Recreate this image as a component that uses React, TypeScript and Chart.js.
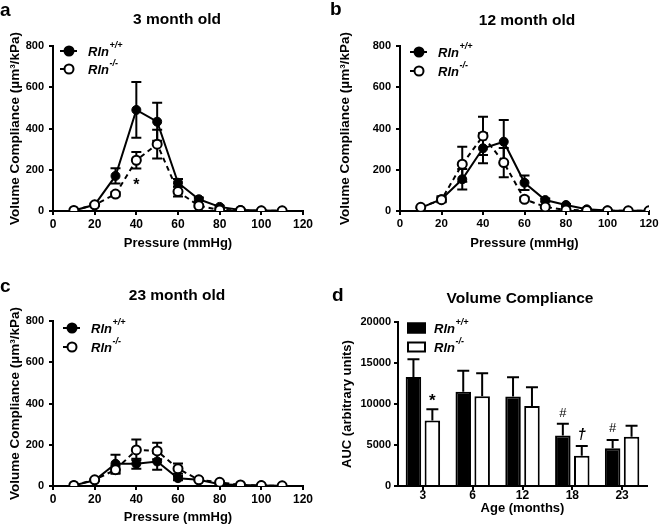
import React, { useEffect, useRef } from 'react';
import { Chart, registerables } from 'chart.js';
Chart.register(...registerables);

const FONT = '"Liberation Sans", Arial, Helvetica, sans-serif';

// ---------- DATA ----------
const pressureA = [10, 20, 30, 40, 50, 60, 70, 80, 90, 100, 110];
const wtA = [2, 30, 170, 490, 433, 137, 57, 20, 5, 2, 1];
const wtAErr = [0, 5, 37, 135, 92, 18, 8, 5, 2, 1, 0];
const koA = [3, 30, 82, 246, 324, 94, 25, 5, 3, 1, 1];
const koAErr = [0, 5, 10, 40, 70, 24, 5, 3, 1, 0, 0];

const pressureB = [10, 20, 30, 40, 50, 60, 70, 80, 90, 100, 110, 120];
const wtB = [15, 57, 154, 304, 336, 137, 53, 29, 8, 3, 1, 1];
const wtBErr = [0, 15, 50, 73, 105, 35, 8, 5, 2, 1, 0, 0];
const koB = [18, 55, 227, 364, 235, 57, 20, 5, 3, 1, 1, 1];
const koBErr = [3, 10, 85, 93, 71, 10, 5, 3, 1, 0, 0, 0];

const pressureC = [10, 20, 30, 40, 50, 60, 70, 80, 90, 100, 110];
const wtC = [3, 28, 108, 108, 119, 38, 30, 8, 5, 3, 1];
const wtCErr = [0, 3, 44, 24, 40, 10, 3, 2, 1, 1, 0];
const koC = [3, 30, 79, 175, 170, 84, 30, 18, 5, 2, 1];
const koCErr = [0, 4, 19, 50, 40, 25, 5, 3, 1, 1, 0];

const ageLabels = ['3', '6', '12', '18', '23'];
const wtAUC = [13300, 11500, 10900, 6150, 4600];
const wtAUCErr = [2150, 2550, 2350, 1450, 1000];
const koAUC = [8000, 10950, 9750, 3700, 6000];
const koAUCErr = [1350, 2800, 2300, 1180, 1350];

const pressureTicks = [0, 20, 40, 60, 80, 100, 120];
const complianceTicks = [0, 200, 400, 600, 800];
const aucTicks = [0, 5000, 10000, 15000, 20000];

const seriesNames = ['Rln', 'Rln'];
const seriesSups = ['+/+', '-/-'];

// ---------- PLUGINS ----------
function errorBarPlugin(errs: number[][], oneSided: boolean, capHalf: number) {
  return {
    id: 'errbars',
    beforeDatasetsDraw(chart: any) {
      const ctx = chart.ctx;
      const y = chart.scales.y;
      ctx.save();
      ctx.strokeStyle = '#000';
      ctx.lineWidth = 2;
      chart.data.datasets.forEach((ds: any, i: number) => {
        const meta = chart.getDatasetMeta(i);
        meta.data.forEach((el: any, j: number) => {
          const v = typeof ds.data[j] === 'number' ? ds.data[j] : ds.data[j].y;
          const e = errs[i][j];
          if (!e) return;
          const px = el.x;
          const top = y.getPixelForValue(v + e);
          const bot = oneSided ? y.getPixelForValue(v) : y.getPixelForValue(Math.max(0, v - e));
          ctx.beginPath();
          ctx.moveTo(px, top);
          ctx.lineTo(px, bot);
          ctx.moveTo(px - capHalf, top);
          ctx.lineTo(px + capHalf, top);
          if (!oneSided && v - e > 0) {
            ctx.moveTo(px - capHalf, bot);
            ctx.lineTo(px + capHalf, bot);
          }
          ctx.stroke();
        });
      });
      ctx.restore();
    },
  };
}

function legendPlugin(kind: 'line' | 'bar', dx: number, dy1: number, dy2: number) {
  return {
    id: 'customLegend',
    afterDraw(chart: any) {
      const ctx = chart.ctx;
      const { left, top } = chart.chartArea;
      ctx.save();
      [dy1, dy2].forEach((dy, i) => {
        const cy = top + dy;
        const x0 = left + dx;
        ctx.strokeStyle = '#000';
        ctx.lineWidth = 2;
        if (kind === 'line') {
          ctx.beginPath();
          ctx.setLineDash(i === 0 ? [] : [5, 4]);
          ctx.moveTo(x0, cy);
          ctx.lineTo(x0 + 17, cy);
          ctx.stroke();
          ctx.setLineDash([]);
          ctx.beginPath();
          ctx.arc(x0 + 9, cy, 4.5, 0, Math.PI * 2);
          ctx.fillStyle = i === 0 ? '#000' : '#fff';
          ctx.fill();
          ctx.stroke();
        } else {
          ctx.fillStyle = i === 0 ? '#000' : '#fff';
          ctx.fillRect(x0, cy - 5.5, 19, 11);
          ctx.strokeRect(x0 + 1, cy - 4.5, 17, 9);
        }
        const tx = x0 + (kind === 'line' ? 28 : 27);
        ctx.fillStyle = '#000';
        ctx.textBaseline = 'middle';
        ctx.textAlign = 'left';
        ctx.font = `italic bold 13px ${FONT}`;
        ctx.fillText(seriesNames[i], tx, cy + 1);
        const w = ctx.measureText(seriesNames[i]).width;
        ctx.font = `italic bold 9px ${FONT}`;
        ctx.fillText(seriesSups[i], tx + w + 0.5, cy - 5);
      });
      ctx.restore();
    },
  };
}

type Ann = { x?: number; ds?: number; idx?: number; y: number; text: string; font: string };
function annotationPlugin(anns: Ann[]) {
  return {
    id: 'anns',
    afterDraw(chart: any) {
      const ctx = chart.ctx;
      ctx.save();
      ctx.fillStyle = '#000';
      ctx.textAlign = 'center';
      ctx.textBaseline = 'middle';
      anns.forEach((a) => {
        let px: number;
        if (a.ds !== undefined) px = chart.getDatasetMeta(a.ds).data[a.idx as number].x;
        else px = chart.scales.x.getPixelForValue(a.x);
        const py = chart.scales.y.getPixelForValue(a.y);
        ctx.font = a.font;
        ctx.fillText(a.text, px, py);
      });
      ctx.restore();
    },
  };
}

// ---------- CONFIG HELPERS ----------
const axisCommon = {
  grid: { display: true, drawOnChartArea: false, drawTicks: true, tickLength: 4, color: '#000', lineWidth: 2 },
  border: { display: true, color: '#000', width: 2 },
};

function lineChartConfig(p: any) {
  const mk = (xs: number[], ys: number[]) => xs.map((x, i) => ({ x, y: ys[i] }));
  return {
    type: 'line',
    data: {
      datasets: [
        {
          label: 'Rln+/+',
          data: mk(p.x, p.wt),
          borderColor: '#000',
          borderWidth: 2,
          pointRadius: 4.5,
          pointBackgroundColor: '#000',
          pointBorderColor: '#000',
          pointBorderWidth: 1,
          order: 2,
        },
        {
          label: 'Rln-/-',
          data: mk(p.x, p.ko),
          borderColor: '#000',
          borderWidth: 2,
          borderDash: [5, 4],
          pointRadius: 4.5,
          pointBackgroundColor: '#fff',
          pointBorderColor: '#000',
          pointBorderWidth: 2,
          order: 1,
        },
      ],
    },
    options: {
      responsive: false,
      animation: false,
      devicePixelRatio: 1,
      layout: { padding: p.padding },
      plugins: { legend: { display: false }, tooltip: { enabled: false }, title: { display: false } },
      scales: {
        x: {
          type: 'linear',
          min: 0,
          max: 120,
          afterBuildTicks: (s: any) => { s.ticks = pressureTicks.map((v) => ({ value: v })); },
          ticks: { font: { family: FONT, size: p.xTickSize, weight: 'bold' }, color: '#000', padding: 2, maxRotation: 0 },
          ...axisCommon,
          title: { display: true, text: 'Pressure (mmHg)', font: { family: FONT, size: 13, weight: 'bold' }, color: '#000', padding: 0 },
          afterFit: (s: any) => { s.height = p.xH; },
        },
        y: {
          min: 0,
          max: 800,
          afterBuildTicks: (s: any) => { s.ticks = complianceTicks.map((v) => ({ value: v })); },
          ticks: { font: { family: FONT, size: 11, weight: 'bold' }, color: '#000', padding: 5 },
          ...axisCommon,
          title: { display: true, text: 'Volume Compliance (µm³/kPa)', font: { family: FONT, size: 13.5, weight: 'bold' }, color: '#000', padding: { top: p.yTitlePad, bottom: 0 } },
          afterFit: (s: any) => { s.width = p.yW; },
        },
      },
    },
    plugins: [errorBarPlugin([p.wtErr, p.koErr], false, 5), legendPlugin('line', p.legDx, p.legDy1, p.legDy2), annotationPlugin(p.anns)],
  };
}

function barChartConfig() {
  return {
    type: 'bar',
    data: {
      labels: ageLabels,
      datasets: [
        { label: 'Rln+/+', data: wtAUC, backgroundColor: '#000', borderColor: '#000', borderWidth: 2, categoryPercentage: 0.76, barPercentage: 0.82 },
        { label: 'Rln-/-', data: koAUC, backgroundColor: '#fff', borderColor: '#000', borderWidth: 2, categoryPercentage: 0.76, barPercentage: 0.82 },
      ],
    },
    options: {
      responsive: false,
      animation: false,
      devicePixelRatio: 1,
      layout: { padding: { left: 0, top: 62, right: 14, bottom: 9 } },
      plugins: { legend: { display: false }, tooltip: { enabled: false }, title: { display: false } },
      scales: {
        x: {
          ticks: { font: { family: FONT, size: 12, weight: 'bold' }, color: '#000', padding: -2, maxRotation: 0 },
          ...axisCommon,
          grid: { ...axisCommon.grid, offset: false },
          title: { display: true, text: 'Age (months)', font: { family: FONT, size: 13, weight: 'bold' }, color: '#000', padding: 0 },
          afterFit: (s: any) => { s.height = 30; },
        },
        y: {
          min: 0,
          max: 20000,
          afterBuildTicks: (s: any) => { s.ticks = aucTicks.map((v) => ({ value: v })); },
          ticks: { font: { family: FONT, size: 11, weight: 'bold' }, color: '#000', padding: 3, callback: (v: any) => String(v) },
          ...axisCommon,
          title: { display: true, text: 'AUC (arbitrary units)', font: { family: FONT, size: 13, weight: 'bold' }, color: '#000', padding: { top: 10, bottom: 0 } },
          afterFit: (s: any) => { s.width = 68; },
        },
      },
    },
    plugins: [
      errorBarPlugin([wtAUCErr, koAUCErr], true, 6),
      legendPlugin('bar', 9, 6, 25),
      annotationPlugin([
        { ds: 1, idx: 0, y: 10300, text: '*', font: `bold 17px ${FONT}` },
        { ds: 0, idx: 3, y: 8900, text: '#', font: `13px ${FONT}` },
        { ds: 1, idx: 3, y: 6200, text: '†', font: `italic bold 15px ${FONT}` },
        { ds: 0, idx: 4, y: 7070, text: '#', font: `13px ${FONT}` },
      ]),
    ],
  };
}

const panelA = {
  x: pressureA, wt: wtA, wtErr: wtAErr, ko: koA, koErr: koAErr,
  padding: { left: 0, top: 46, right: 27, bottom: 9 }, xH: 40, yW: 53, yTitlePad: 7, xTickSize: 12,
  legDx: 7, legDy1: 5, legDy2: 23,
  anns: [{ x: 40, y: 125, text: '*', font: `bold 16px ${FONT}` }],
};
const panelB = {
  x: pressureB, wt: wtB, wtErr: wtBErr, ko: koB, koErr: koBErr,
  padding: { left: 0, top: 46, right: 21, bottom: 9 }, xH: 40, yW: 70, yTitlePad: 7, xTickSize: 11.5,
  legDx: 10, legDy1: 6, legDy2: 25,
  anns: [],
};
const panelC = {
  x: pressureC, wt: wtC, wtErr: wtCErr, ko: koC, koErr: koCErr,
  padding: { left: 0, top: 61, right: 27, bottom: 0 }, xH: 39, yW: 53, yTitlePad: 7, xTickSize: 12,
  legDx: 10, legDy1: 7, legDy2: 26,
  anns: [],
};

function ChartCanvas({ config, left, top, width, height }: any) {
  const ref = useRef<HTMLCanvasElement>(null);
  useEffect(() => {
    const chart = new Chart(ref.current as HTMLCanvasElement, config());
    return () => chart.destroy();
  }, []);
  return (
    <canvas
      ref={ref}
      width={width}
      height={height}
      style={{ position: 'absolute', left, top, width, height }}
    />
  );
}

const titleStyle = (cx: number, cy: number, size: number): React.CSSProperties => ({
  position: 'absolute', left: cx, top: cy, transform: 'translate(-50%, -50%)',
  fontFamily: FONT, fontWeight: 'bold', fontSize: size, whiteSpace: 'nowrap', color: '#000', lineHeight: 1,
});
const letterStyle = (x: number, y: number): React.CSSProperties => ({
  position: 'absolute', left: x, top: y, fontFamily: FONT, fontWeight: 'bold', fontSize: 19, lineHeight: 1, color: '#000',
});

export default function App() {
  return (
    <div style={{ position: 'fixed', left: 0, top: 0, width: 661, height: 525, background: '#fff', overflow: 'hidden' }}>
      <ChartCanvas config={() => lineChartConfig(panelA)} left={0} top={0} width={330} height={260} />
      <ChartCanvas config={() => lineChartConfig(panelB)} left={330} top={0} width={340} height={260} />
      <ChartCanvas config={() => lineChartConfig(panelC)} left={0} top={260} width={330} height={265} />
      <ChartCanvas config={barChartConfig} left={330} top={260} width={331} height={265} />
      <div style={letterStyle(0, 0)}>a</div>
      <div style={letterStyle(330, -1)}>b</div>
      <div style={letterStyle(0, 276)}>c</div>
      <div style={letterStyle(332, 285)}>d</div>
      <div style={titleStyle(177, 19, 15.5)}>3 month old</div>
      <div style={titleStyle(527, 20, 15.5)}>12 month old</div>
      <div style={titleStyle(177, 295, 15.5)}>23 month old</div>
      <div style={titleStyle(520, 298, 15.5)}>Volume Compliance</div>
    </div>
  );
}
